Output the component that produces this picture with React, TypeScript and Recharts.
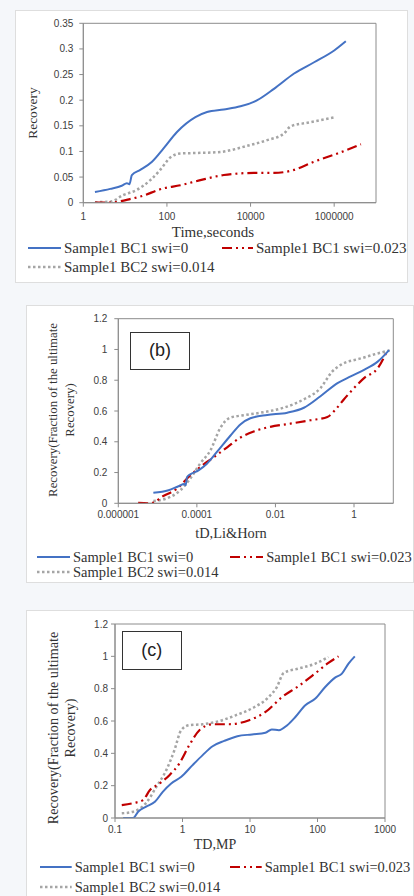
import { LineChart, Line, XAxis, YAxis, ReferenceArea } from 'recharts';

const BLUE = '#4472c4';
const RED = '#c00000';
const GREY = '#a5a5a5';
const DASH_RED = '10 4 2 4 2 4';
const DOT_GREY = '2.5 2.5';
const SERIF = '"Liberation Serif", "Times New Roman", serif';
const SANS = '"Liberation Sans", Arial, sans-serif';
const INK = '#333';

const SERIES_NAMES = ['Sample1 BC1 swi=0', 'Sample1 BC1 swi=0.023', 'Sample1 BC2 swi=0.014'];

// (a) recovery vs time, seconds
const aTimeSolid = [1.9, 4.4, 8.3, 11, 12.7, 14.5, 23, 44, 83, 174, 480, 910, 2290, 5750, 14500, 36300, 110000, 331000, 1000000, 1900000];
const aRecSolid = [0.021, 0.027, 0.033, 0.038, 0.036, 0.054, 0.064, 0.08, 0.106, 0.138, 0.167, 0.177, 0.182, 0.188, 0.2, 0.222, 0.252, 0.274, 0.297, 0.315];
const aTimeDash = [1.9, 3.6, 13, 23, 83, 209, 630, 2290, 12000, 36000, 110000, 331000, 1200000, 4370000];
const aRecDash = [0, 0, 0.007, 0.012, 0.028, 0.034, 0.044, 0.054, 0.058, 0.058, 0.064, 0.08, 0.096, 0.114];
const aTimeDot = [1.9, 4.4, 9.1, 19, 40, 69, 120, 209, 525, 1900, 8300, 25000, 63000, 91000, 229000, 1100000];
const aRecDot = [0.001, 0.002, 0.015, 0.025, 0.044, 0.064, 0.088, 0.096, 0.097, 0.099, 0.111, 0.122, 0.135, 0.149, 0.156, 0.167];
const aXTicks = [1, 100, 10000, 1000000];
const aYTicks = [0, 0.05, 0.1, 0.15, 0.2, 0.25, 0.3, 0.35];

// (b) tD, Li & Horn
const bTdSolid = [7.8e-6, 1.9e-5, 3.4e-5, 4.8e-5, 5.2e-5, 5.6e-5, 6.8e-5, 1.1e-4, 1.8e-4, 3.2e-4, 7.1e-4, 1.3e-3, 2.3e-3, 6.2e-3, 0.02, 0.053, 0.14, 0.38, 0.82, 1.8, 4.0, 7.8];
const bRecSolid = [0.068, 0.085, 0.111, 0.125, 0.118, 0.17, 0.188, 0.214, 0.257, 0.332, 0.439, 0.514, 0.553, 0.574, 0.589, 0.621, 0.696, 0.781, 0.825, 0.868, 0.921, 0.996];
const bTdDash = [3.2e-6, 6.5e-6, 1.4e-5, 3.1e-5, 6.8e-5, 1.2e-4, 2.7e-4, 5.9e-4, 1.3e-3, 2.8e-3, 7.4e-3, 0.024, 0.078, 0.21, 0.34, 0.55, 1.0, 1.8, 4.0, 5.9, 7.1];
const bRecDash = [0.003, 0, 0.047, 0.094, 0.182, 0.235, 0.3, 0.364, 0.428, 0.467, 0.497, 0.518, 0.54, 0.561, 0.61, 0.675, 0.749, 0.814, 0.878, 0.953, 0.996];
const bTdDot = [7.8e-6, 1.7e-5, 3.8e-5, 6.8e-5, 1.2e-4, 2.2e-4, 4e-4, 7.1e-4, 1.5e-3, 4.2e-3, 0.016, 0.052, 0.14, 0.28, 0.46, 1.5, 4.0, 8.7];
const bRecDot = [0.015, 0.032, 0.085, 0.161, 0.257, 0.343, 0.492, 0.557, 0.572, 0.589, 0.621, 0.675, 0.749, 0.857, 0.9, 0.942, 0.974, 0.996];
const bXTicks = [0.000001, 0.0001, 0.01, 1];

// (c) TD, MP
const cTdSolid = [0.132, 0.186, 0.22, 0.29, 0.39, 0.51, 0.68, 0.96, 1.41, 1.99, 2.79, 4.15, 6.5, 10.7, 16.9, 21, 26.8, 35.6, 47, 66, 93, 130, 182, 230, 288, 357];
const cRecSolid = [0, 0, 0.039, 0.07, 0.1, 0.162, 0.214, 0.255, 0.327, 0.389, 0.444, 0.477, 0.506, 0.517, 0.527, 0.548, 0.543, 0.574, 0.625, 0.698, 0.739, 0.81, 0.868, 0.893, 0.955, 1.0];
const cTdDash = [0.126, 0.196, 0.26, 0.33, 0.46, 0.64, 0.9, 1.26, 1.78, 2.79, 4.9, 9.7, 17, 30, 52, 94, 145, 205];
const cRecDash = [0.08, 0.094, 0.111, 0.173, 0.214, 0.265, 0.338, 0.45, 0.543, 0.58, 0.58, 0.605, 0.656, 0.749, 0.815, 0.897, 0.959, 1.0];
const cTdDot = [0.126, 0.186, 0.29, 0.41, 0.575, 0.76, 0.955, 1.26, 1.99, 3.13, 6.2, 10.6, 19, 25, 31.6, 52, 93, 145];
const cRecDot = [0.029, 0.039, 0.094, 0.193, 0.296, 0.42, 0.543, 0.574, 0.58, 0.594, 0.636, 0.677, 0.749, 0.81, 0.897, 0.924, 0.955, 0.996];
const cXTicks = [0.1, 1, 10, 100, 1000];

const fracTicks = [0, 0.2, 0.4, 0.6, 0.8, 1, 1.2];

const zip = (xs: number[], ys: number[]) => xs.map((x, i) => ({ x, y: ys[i] }));

type Series = { data: { x: number; y: number }[]; stroke: string; dash?: string; width: number };

interface PlotProps {
  left: number;
  top: number;
  width: number;
  height: number;
  plot: { x1: number; x2: number; y1: number; y2: number };
  xDomain: [number, number];
  xTicks: number[];
  yMax: number;
  yTicks: number[];
  yTickMargin: number;
  xTickMargin: number;
  series: Series[];
}

function Plot({ left, top, width, height, plot, xDomain, xTicks, yMax, yTicks, yTickMargin, xTickMargin, series }: PlotProps) {
  const yW = 50;
  const xH = 30;
  const margin = {
    left: plot.x1 - left - yW,
    right: left + width - plot.x2,
    top: plot.y1 - top,
    bottom: top + height - plot.y2 - xH,
  };
  const tick = { fontSize: 10, fill: '#404040', fontFamily: SANS };
  return (
    <div
      style={{
        position: 'absolute',
        left,
        top,
        width: width - 2,
        height: height - 2,
        background: '#fff',
        border: '1px solid #dedede',
      }}
    >
      <div style={{ position: 'absolute', left: -1, top: -1 }}>
        <LineChart width={width} height={height} margin={margin}>
          <XAxis
            dataKey="x"
            type="number"
            scale="log"
            domain={xDomain}
            ticks={xTicks}
            interval={0}
            allowDataOverflow
            height={xH}
            tick={tick}
            tickSize={4}
            tickMargin={xTickMargin}
            tickLine={{ stroke: '#8c8c8c' }}
            axisLine={{ stroke: '#8c8c8c' }}
            tickFormatter={(v: number) => String(v)}
          />
          <YAxis
            type="number"
            domain={[0, yMax]}
            ticks={yTicks}
            interval={0}
            allowDataOverflow
            width={yW}
            tick={tick}
            tickSize={4}
            tickMargin={yTickMargin}
            tickLine={{ stroke: '#8c8c8c' }}
            axisLine={{ stroke: '#8c8c8c' }}
          />
          <ReferenceArea x1={xDomain[0]} x2={xDomain[1]} y1={0} y2={yMax} fill="none" stroke="#8c8c8c" strokeWidth={1} />
          {series.map((s, i) => (
            <Line
              key={i}
              data={s.data}
              dataKey="y"
              type="monotone"
              stroke={s.stroke}
              strokeWidth={s.width}
              strokeDasharray={s.dash}
              dot={false}
              activeDot={false}
              isAnimationActive={false}
            />
          ))}
        </LineChart>
      </div>
    </div>
  );
}

function Text({ x, y, size, children, rotate, family = SERIF, lineHeight }: any) {
  return (
    <div
      style={{
        position: 'absolute',
        left: x,
        top: y,
        transform: `translate(-50%, -50%)${rotate ? ' rotate(-90deg)' : ''}`,
        fontFamily: family,
        fontSize: size,
        color: INK,
        whiteSpace: 'pre',
        textAlign: 'center',
        lineHeight: lineHeight ? `${lineHeight}px` : 'normal',
      }}
    >
      {children}
    </div>
  );
}

function LegendItem({ x1, x2, y, stroke, dash, width, label, size }: any) {
  return (
    <>
      <svg style={{ position: 'absolute', left: x1, top: y - 3 }} width={x2 - x1} height={6}>
        <line x1={0} y1={3} x2={x2 - x1} y2={3} stroke={stroke} strokeWidth={width} strokeDasharray={dash} />
      </svg>
      <div
        style={{
          position: 'absolute',
          left: x2 + 3,
          top: y,
          transform: 'translateY(-50%)',
          fontFamily: SERIF,
          fontSize: size,
          color: INK,
          whiteSpace: 'pre',
        }}
      >
        {label}
      </div>
    </>
  );
}

function TagBox({ x1, x2, y1, y2, label }: any) {
  return (
    <div
      style={{
        position: 'absolute',
        left: x1,
        top: y1,
        width: x2 - x1 - 2,
        height: y2 - y1 - 2,
        border: '1px solid #333',
        background: '#fff',
        fontFamily: SANS,
        fontSize: 18,
        color: '#222',
        display: 'flex',
        alignItems: 'center',
        justifyContent: 'center',
      }}
    >
      {label}
    </div>
  );
}

function threeSeries(solid: any, dash: any, dot: any): Series[] {
  return [
    { data: dot, stroke: GREY, dash: DOT_GREY, width: 2.5 },
    { data: dash, stroke: RED, dash: DASH_RED, width: 2.2 },
    { data: solid, stroke: BLUE, width: 2 },
  ];
}

function Legend3({ row1, row2, blue, red, size }: any) {
  return (
    <>
      <LegendItem x1={blue[0]} x2={blue[1]} y={row1} stroke={BLUE} width={2} label={SERIES_NAMES[0]} size={size} />
      <LegendItem x1={red[0]} x2={red[1]} y={row1} stroke={RED} width={2.2} dash={DASH_RED} label={SERIES_NAMES[1]} size={size} />
      <LegendItem x1={blue[0]} x2={blue[1]} y={row2} stroke={GREY} width={2.5} dash={DOT_GREY} label={SERIES_NAMES[2]} size={size} />
    </>
  );
}

export default function App() {
  return (
    <div
      style={{
        position: 'absolute',
        left: 0,
        top: 0,
        width: 414,
        height: 896,
        overflow: 'hidden',
        background: '#f5f7fa',
      }}
    >
      {/* (a) */}
      <Plot
        left={15}
        top={10}
        width={393}
        height={273}
        plot={{ x1: 83.3, x2: 376, y1: 23.3, y2: 202.7 }}
        xDomain={[1, 10000000]}
        xTicks={aXTicks}
        yMax={0.35}
        yTicks={aYTicks}
        yTickMargin={6}
        xTickMargin={6}
        series={threeSeries(zip(aTimeSolid, aRecSolid), zip(aTimeDash, aRecDash), zip(aTimeDot, aRecDot))}
      />
      <Text x={33} y={113} size={13.5} rotate>Recovery</Text>
      <Text x={213} y={232} size={15}>Time,seconds</Text>
      <Legend3 row1={248} row2={267} blue={[28, 61]} red={[222, 253]} size={15} />

      {/* (b) */}
      <Plot
        left={26}
        top={305}
        width={388}
        height={278}
        plot={{ x1: 118.3, x2: 393.3, y1: 318.7, y2: 503.3 }}
        xDomain={[0.000001, 10]}
        xTicks={bXTicks}
        yMax={1.2}
        yTicks={fracTicks}
        yTickMargin={7}
        xTickMargin={4}
        series={threeSeries(zip(bTdSolid, bRecSolid), zip(bTdDash, bRecDash), zip(bTdDot, bRecDot))}
      />
      <TagBox x1={130} x2={190} y1={331.7} y2={370} label="(b)" />
      <Text x={62} y={410} size={12.8} rotate lineHeight={17.4}>
        {'Recovery(Fraction of the ultimate\nRecovery)'}
      </Text>
      <Text x={231} y={533} size={14.4}>tD,Li&amp;Horn</Text>
      <Legend3 row1={556.7} row2={571.7} blue={[36.7, 70]} red={[230, 263.3]} size={14.5} />

      {/* (c) */}
      <Plot
        left={26}
        top={610}
        width={388}
        height={290}
        plot={{ x1: 115, x2: 385, y1: 624, y2: 818 }}
        xDomain={[0.1, 1000]}
        xTicks={cXTicks}
        yMax={1.2}
        yTicks={fracTicks}
        yTickMargin={3}
        xTickMargin={4}
        series={threeSeries(zip(cTdSolid, cRecSolid), zip(cTdDash, cRecDash), zip(cTdDot, cRecDot))}
      />
      <TagBox x1={121.7} x2={181.7} y1={630.7} y2={670} label="(c)" />
      <Text x={61.7} y={728} size={14.2} rotate lineHeight={16.7}>
        {'Recovery(Fraction of the ultimate\nRecovery)'}
      </Text>
      <Text x={215} y={845} size={14}>TD,MP</Text>
      <Legend3 row1={866.7} row2={886.7} blue={[40, 71.7]} red={[230, 261.7]} size={14.5} />
    </div>
  );
}
